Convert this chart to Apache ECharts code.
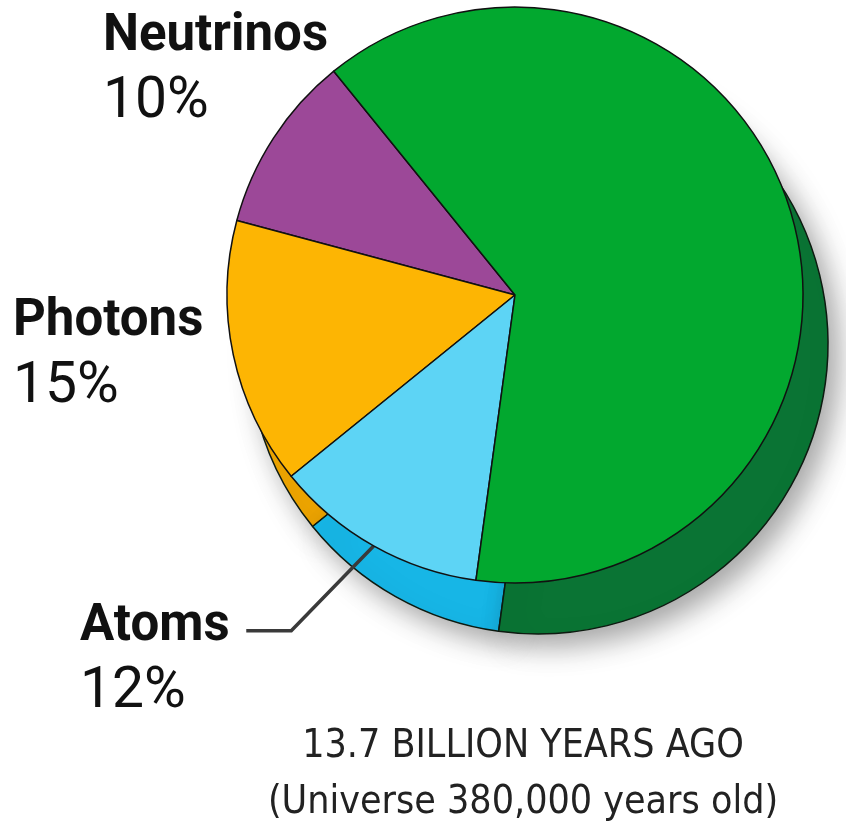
<!DOCTYPE html>
<html>
<head>
<meta charset="utf-8">
<script src="https://cdn.jsdelivr.net/npm/echarts@6/dist/echarts.min.js"></script>
<style>
html, body { margin: 0; background: #fff; }
#main { width: 846px; height: 830px; }
</style>
</head>
<body>
<div id="main"></div>
<script>
// composition of the universe, 13.7 billion years ago
var names = ['Neutrinos', 'Photons', 'Atoms', 'Dark Matter'];
var shares = [10, 15, 12, 63];
var titleLines = ['13.7 BILLION YEARS AGO', '(Universe 380,000 years old)'];

var topColors = ['#9c4898', '#fdb503', '#5dd4f5', '#02a82f'];
var sideColors = ['#7a3577', '#eea500', '#17b6e6', '#0a7434'];
// top-left corner of each label, green has none
var labelPos = [[103, 5], [13, 290], [80, 496], null];

var nameFont = 'Roboto, "DejaVu Sans Condensed", sans-serif';
var textFont = '"DejaVu Sans Condensed", "DejaVu Sans", sans-serif';
var center = [515, 295];
var sideCenter = [538, 344];
var radius = 288;
var sideRadius = 290;

var chart = echarts.init(document.getElementById('main'));

var topData = names.map(function (n, i) {
    var item = {
        name: n,
        value: shares[i],
        itemStyle: { color: topColors[i] }
    };
    if (!labelPos[i]) {
        item.label = { show: false };
    }
    if (n === 'Atoms') {
        // an empty first line moves the middle of the label box onto the name,
        // so the leader line leaves from there
        item.label = { formatter: '{e| }\n{n|{b}}{g|\u00a0\u00a0\u00a0}\n{p|{d}%}' };
        item.labelLine = { show: true, length2: 45, smooth: false, lineStyle: { color: '#3a3a3a', width: 3.5 } };
    }
    return item;
});

var sideData = names.map(function (n, i) {
    return { name: n, value: shares[i], itemStyle: { color: sideColors[i] } };
});

chart.setOption({
    backgroundColor: '#fff',
    animation: false,
    series: [{
        // side of the disc: a darker copy pushed down
        type: 'pie',
        silent: true,
        center: sideCenter,
        radius: sideRadius,
        startAngle: 129,
        clockwise: false,
        label: { show: false },
        labelLine: { show: false },
        itemStyle: {
            borderColor: '#0d1a10',
            borderWidth: 1.5,
            shadowBlur: 28,
            shadowColor: 'rgba(0,0,0,0.35)',
            shadowOffsetX: 10,
            shadowOffsetY: 12
        },
        data: sideData,
        z: 1
    }, {
        type: 'pie',
        silent: true,
        center: center,
        radius: radius,
        startAngle: 129,
        clockwise: false,
        itemStyle: {
            borderColor: '#111',
            borderWidth: 1.5
        },
        label: {
            position: 'outside',
            width: 280,
            overflow: 'none',
            formatter: '{n|{b}}\n{p|{d}%}',
            rich: {
                e: { fontSize: 10, lineHeight: 99 },
                g: { fontSize: 20, lineHeight: 65 },
                n: { fontFamily: nameFont, fontWeight: 'bold', fontSize: 51, lineHeight: 65, color: '#111' },
                p: { fontFamily: nameFont, fontSize: 57, lineHeight: 65, color: '#111' }
            }
        },
        labelLine: { show: false },
        labelLayout: function (params) {
            var p = labelPos[params.dataIndex];
            if (!p) return {};
            return { x: p[0], y: p[1], align: 'left', verticalAlign: 'top' };
        },
        data: topData,
        z: 2
    }],
    graphic: [{
        type: 'text',
        x: 523,
        y: 727,
        style: { text: titleLines[0], font: '39px ' + textFont, fill: '#222', align: 'center', verticalAlign: 'top' }
    }, {
        type: 'text',
        x: 523,
        y: 783,
        style: { text: titleLines[1], font: '39px ' + textFont, fill: '#222', align: 'center', verticalAlign: 'top' }
    }]
});
</script>
</body>
</html>
